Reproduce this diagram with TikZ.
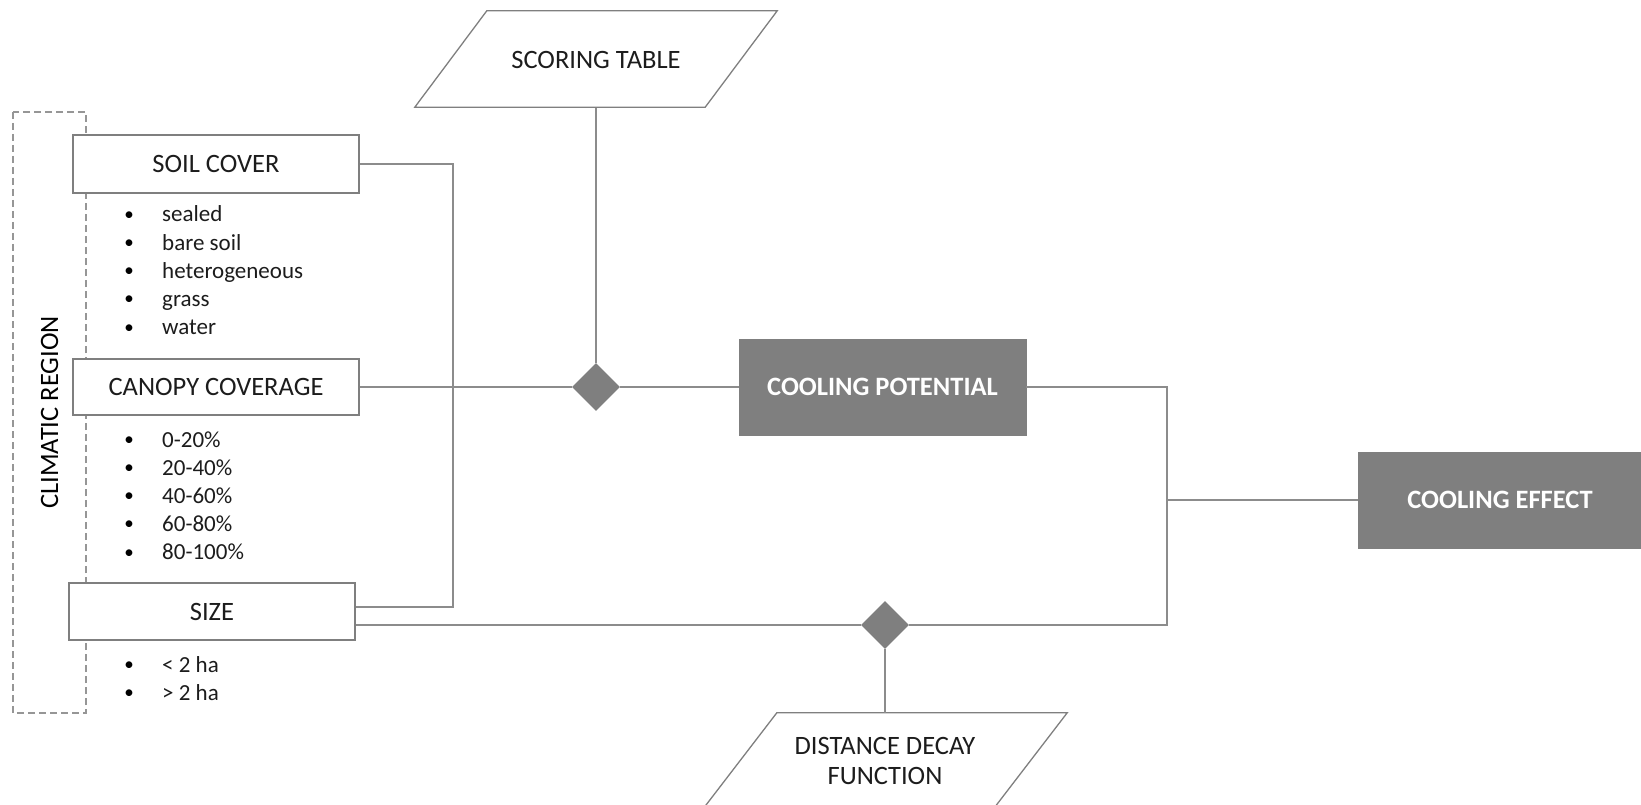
\documentclass[tikz,border=0pt]{standalone}
\usepackage{fontspec}
\setmainfont{Carlito}
\usetikzlibrary{shapes.geometric,calc}
\definecolor{boxgray}{RGB}{127,127,127}
\definecolor{linegray}{RGB}{140,140,140}
\definecolor{dashgray}{RGB}{150,150,150}
\definecolor{txt}{RGB}{28,28,28}
\begin{document}
\begin{tikzpicture}[x=1pt,y=-1pt,
 every node/.style={text=txt},
 box/.style={draw=boxgray, line width=1.3pt, fill=white, inner sep=0pt, font=\fontsize{26.5}{30}\selectfont},
 dark/.style={fill=boxgray, draw=boxgray, inner sep=0pt, text=white, font=\fontsize{26.5}{30}\selectfont\bfseries},
 conn/.style={draw=linegray, line width=1.3pt},
 dia/.style={diamond, fill=boxgray, inner sep=0pt, minimum width=48pt, minimum height=48pt},
 item/.style={anchor=base west, font=\fontsize{23}{28}\selectfont, inner sep=0pt},
 bul/.style={anchor=center, font=\fontsize{19}{28}\selectfont, inner sep=0pt, text=black},
 para/.style={inner sep=0pt, minimum width=290pt, minimum height=96pt, align=center, font=\fontsize{26.5}{30}\selectfont},
 paraline/.style={draw=boxgray, line width=1.3pt},
]
\useasboundingbox (0,0) rectangle (1641,805);
% climatic region
\node[draw=dashgray, dash pattern=on 7pt off 4pt, line width=1.2pt, rotate=90, minimum width=601pt, minimum height=73pt, inner sep=0pt, text=black, font=\fontsize{26.5}{30}\selectfont] (clim) at (49.5,412.5) {CLIMATIC REGION};
% input boxes
\node[box, minimum width=286pt, minimum height=58pt] (soil) at (216,164) {\raisebox{-2pt}{SOIL COVER}};
\node[box, minimum width=286pt, minimum height=56pt] (canopy) at (216,387) {\raisebox{-2pt}{CANOPY COVERAGE}};
\node[box, minimum width=286pt, minimum height=57pt] (size) at (212,611.5) {\raisebox{-2pt}{SIZE}};
% bullet lists
\foreach \t [count=\i] in {sealed, bare soil, heterogeneous, grass, water} {
 \node[bul] (sb\i) at (129, {216+28.2*(\i-1)}) {•};
 \node[item] (si\i) at (162, {222+28.2*(\i-1)}) {\t};
}
\foreach \t [count=\i] in {0-20\%, 20-40\%, 40-60\%, 60-80\%, 80-100\%} {
 \node[bul] (cb\i) at (129, {441+28.2*(\i-1)}) {•};
 \node[item] (ci\i) at (162, {447+28.2*(\i-1)}) {\t};
}
\foreach \t [count=\i] in {< 2 ha, > 2 ha} {
 \node[bul] (zb\i) at (129, {666+28.2*(\i-1)}) {•};
 \node[item] (zi\i) at (162, {672+28.2*(\i-1)}) {\t};
}
% scoring table
\node[para] (st) at (596,60) {\raisebox{-2pt}{SCORING TABLE}};
\draw[paraline] ($(st.north west)+(36,-1)$) -- ($(st.north east)+(36,-1)$) -- ($(st.south east)+(-36,-1)$) -- ($(st.south west)+(-36,-1)$) -- cycle;
% distance decay
\node[para] (dd) at (885,761) {DISTANCE DECAY\\FUNCTION};
\draw[paraline] ($(dd.north west)+(37,0)$) -- ($(dd.north east)+(37,0)$) -- ($(dd.south east)+(-37,0)$) -- ($(dd.south west)+(-37,0)$) -- cycle;
% diamonds
\node[dia] (d1) at (596,387) {};
\node[dia] (d2) at (885,625) {};
% outputs
\node[dark, minimum width=287pt, minimum height=96pt] (cp) at (882.5,387) {\raisebox{-2pt}{COOLING POTENTIAL}};
\node[dark, minimum width=284pt, minimum height=96pt] (ce) at (1500,500) {\raisebox{-2pt}{COOLING EFFECT}};
% connectors
\coordinate (sz1) at ([yshift=4.5pt]size.east);
\coordinate (sz2) at ([yshift=-13.5pt]size.east);
\coordinate (bus) at (453,164);
\draw[conn] (soil.east) -- (bus) |- (sz1);
\draw[conn] (canopy.east) -- (d1.west);
\draw[conn] (d1.east) -- (cp.west);
\draw[conn] (st.south) -- (d1.north);
\draw[conn] (sz2) -- (d2.west);
\coordinate (bus2) at (1167,625);
\draw[conn] (d2.east) -- (bus2) |- (cp.east);
\draw[conn] (bus2 |- ce.west) -- (ce.west);
\draw[conn] (d2.south) -- (dd.north);
\end{tikzpicture}
\end{document}
